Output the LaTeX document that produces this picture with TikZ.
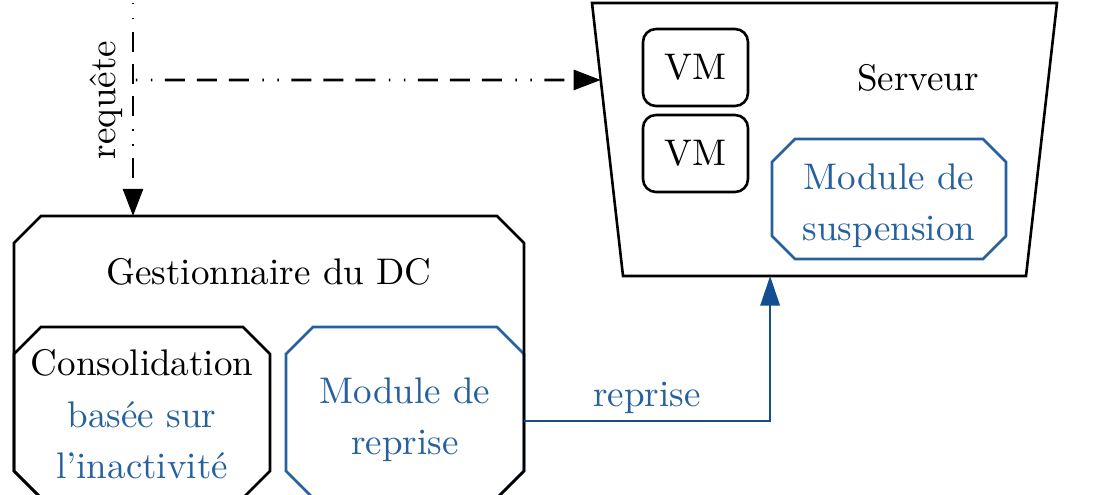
\documentclass[tikz,border=0pt]{standalone}
\usepackage{fontspec}
\usetikzlibrary{arrows.meta,calc}
\definecolor{modblue}{RGB}{38,96,158}
\definecolor{arrblue}{RGB}{18,78,145}
\tikzset{
  base/.style={line width=0.7pt},
  modbox/.style={rectangle, inner sep=0pt, outer sep=0pt, align=center},
  vmbox/.style={base, draw, rounded corners=3.5pt, inner sep=0pt,
    minimum width=105*0.27pt, minimum height=77*0.27pt},
  reqline/.style={base, dash pattern=on 0.4pt off 3.65pt on 0.4pt off 3.37pt on 5.4pt off 3.24pt on 5.4pt off 3.24pt on 5.4pt off 3.65pt,
    dash phase=33.35pt, -{Triangle[length=7.3pt,width=5.4pt]}},
  repline/.style={base, draw=arrblue, -{Triangle[length=8pt,width=5.2pt]}}
}
% chamfered outline drawn round a named node: [style]{name}{cut}
\newcommand{\octoborder}[3][]{%
  \draw[base,#1] ($(#2.north west)+(#3,0pt)$) -- ($(#2.north east)+(-#3,0pt)$)
    -- ($(#2.north east)+(0pt,-#3)$) -- ($(#2.south east)+(0pt,#3)$)
    -- ($(#2.south east)+(-#3,0pt)$) -- ($(#2.south west)+(#3,0pt)$)
    -- ($(#2.south west)+(0pt,#3)$) -- ($(#2.north west)+(0pt,-#3)$) -- cycle;}
\begin{document}
\begin{tikzpicture}[x=0.27pt,y=-0.27pt]
\useasboundingbox (0,0) rectangle (1093,495);
\clip (0,0) rectangle (1093,495);
% inner modules of the DC manager
\node[modbox, minimum width=256*0.27pt, minimum height=171*0.27pt] (cons) at (142,412.5)
  {\rule{0pt}{8pt}Consolidation\\[1.8pt]\textcolor{modblue}{basée sur}\\[1.8pt]\textcolor{modblue}{l'inactivité}};
\octoborder{cons}{7.3pt}
\node[modbox, text=modblue, minimum width=238*0.27pt, minimum height=171*0.27pt] (rep) at (405,412.5)
  {\rule{0pt}{10.7pt}Module de\\[1.8pt]reprise};
\octoborder[draw=modblue]{rep}{7.3pt}
% DC manager
\node[modbox, minimum width=510*0.27pt, minimum height=282*0.27pt] (gest) at (269,357) {};
\octoborder{gest}{7.3pt}
\node (gestlbl) at (269,272) {Gestionnaire du DC};
% server
\node[modbox, minimum width=465*0.27pt, minimum height=273*0.27pt] (serv) at (824.5,139.5) {};
\coordinate (sBL) at ($(serv.south west)+(8.37pt,0pt)$);
\coordinate (sBR) at ($(serv.south east)+(-8.37pt,0pt)$);
\draw[base] (serv.north west) -- (serv.north east) -- (sBR) -- (sBL) -- cycle;
\node (servlbl) at (918,78) {Serveur};
\node[vmbox] (vm1) at (695.5,67.5) {VM};
\node[vmbox] (vm2) at (695.5,153.5) {VM};
\node[modbox, text=modblue, minimum width=234*0.27pt, minimum height=120*0.27pt] (susp) at (889,199)
  {\rule{0pt}{10.7pt}Module de\\[1.8pt]suspension};
\octoborder[draw=modblue]{susp}{6.2pt}
% requete
\coordinate (reqtop) at (133,0);
\coordinate (reqj) at (133,80);
\draw[reqline] (reqtop) -- (reqtop |- gest.north);
\draw[reqline] (reqj) -- ($(serv.north west)!0.282!(sBL)$);
\node[rotate=90, anchor=south] (reqlbl) at (136,100) {requête};
% reprise
\draw[repline] ([yshift=-2.3pt]rep.east) -| node[pos=0.25, above, inner sep=1.5pt, text=modblue] (replbl) {reprise}
  ($(sBL)!0.365!(sBR)$);
\end{tikzpicture}
\end{document}
